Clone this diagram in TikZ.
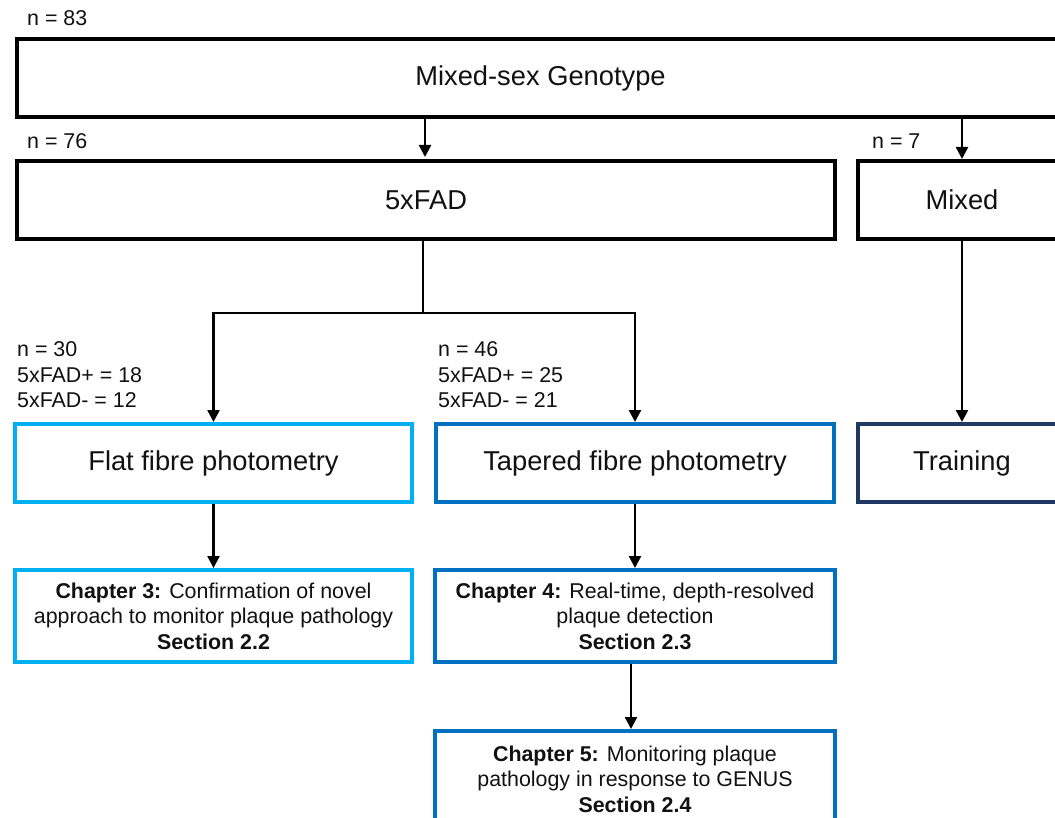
\documentclass[tikz,border=0pt]{standalone}
\usepackage{fontspec}
\setmainfont{Liberation Sans}
\usetikzlibrary{arrows.meta}
\definecolor{cyanb}{HTML}{00B0F0}
\definecolor{midb}{HTML}{0070C0}
\definecolor{navyb}{HTML}{203864}
\definecolor{txt}{HTML}{111111}
\begin{document}
\begin{tikzpicture}[x=1pt,y=-1pt,
  box/.style={draw, line width=4pt, fill=white, inner sep=0pt, text=txt, anchor=north west,
    font=\fontsize{27.3}{32}\selectfont},
  chbox/.style={box, align=center, font=\fontsize{21.4}{25.5}\selectfont},
  lab/.style={anchor=west, align=left, inner sep=0pt, text=txt, font=\fontsize{21.4}{25.5}\selectfont},
  arr/.style={line width=2.5pt, -{Triangle[length=12pt,width=12pt]}},
  ln/.style={line width=2.4pt}]
\useasboundingbox (0,0) rectangle (1055,818);
\clip (0,0) rectangle (1055,818);
\fill[white] (0,0) rectangle (1055,818);
% boxes
\node[box, minimum width=1047pt, minimum height=78pt] (top) at (15,37) {Mixed-sex Genotype};
\node[box, minimum width=818pt, minimum height=78pt] (fad) at (15,159) {5xFAD};
\node[box, minimum width=208pt, minimum height=78pt] (mixed) at (856,159) {Mixed};
\node[box, draw=cyanb, minimum width=397pt, minimum height=78pt] (flat) at (13,422) {Flat fibre photometry};
\node[box, draw=midb, minimum width=398pt, minimum height=78pt] (tap) at (434,422) {Tapered fibre photometry};
\node[box, draw=navyb, minimum width=208pt, minimum height=78pt] (train) at (856,422) {Training};
\node[chbox, draw=cyanb, minimum width=397pt, minimum height=92pt] (ch3) at (13,568)
  {\textbf{Chapter 3:} Confirmation of novel\\approach to monitor plaque pathology\\\textbf{Section 2.2}};
\node[chbox, draw=midb, minimum width=400pt, minimum height=92pt] (ch4) at (433,568)
  {\textbf{Chapter 4:} Real-time, depth-resolved\\plaque detection\\\textbf{Section 2.3}};
\node[chbox, draw=midb, minimum width=400pt, minimum height=96pt] (ch5) at (433,729)
  {\textbf{Chapter 5:} Monitoring plaque\\pathology in response to GENUS\\\textbf{Section 2.4}};
% labels
\node[lab] (l83) at (27,18) {n = 83};
\node[lab] (l76) at (27,141) {n = 76};
\node[lab] (l7) at (872,141) {n = 7};
\node[lab] (l30) at (17,375) {n = 30\\5xFAD+ = 18\\5xFAD- = 12};
\node[lab] (l46) at (438,375) {n = 46\\5xFAD+ = 25\\5xFAD- = 21};
% connectors
\coordinate (j) at (423,313);
\draw[arr] (top.south -| 425,0) -- (425,157);
\draw[arr] (top.south -| mixed.north) -- (mixed.north);
\draw[ln] (fad.south -| j) -- (j);
\draw[arr] (j) -| (flat.north);
\draw[arr] (j) -| (tap.north);
\draw[arr] (mixed.south) -- (train.north);
\draw[arr] (flat.south) -- (ch3.north -| flat.south);
\draw[arr] (tap.south) -- (ch4.north -| tap.south);
\draw[arr] (ch4.south -| 631,0) -- (ch5.north -| 631,0);
\end{tikzpicture}
\end{document}
